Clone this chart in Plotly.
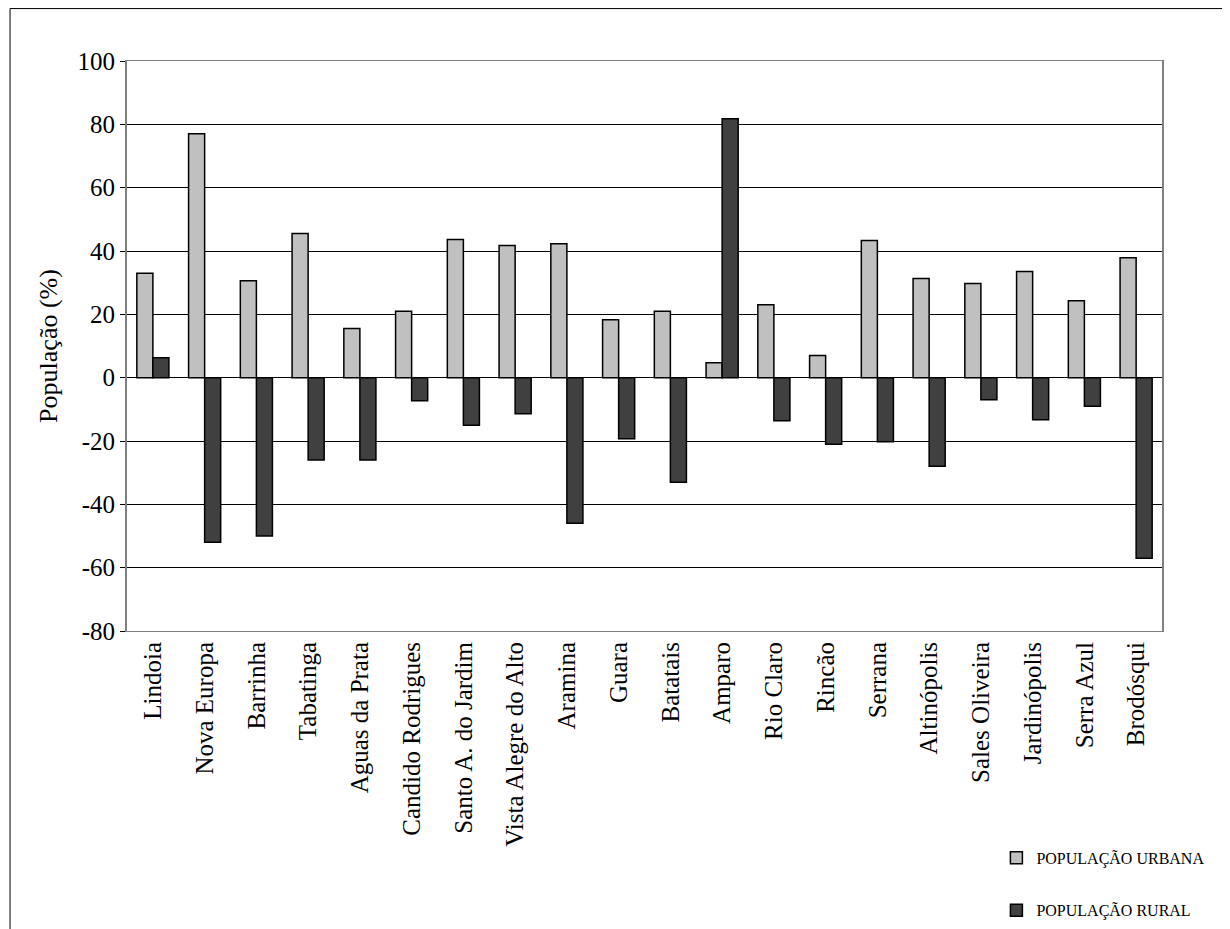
import plotly.graph_objects as go

municipios = ["Lindoia", "Nova Europa", "Barrinha", "Tabatinga", "Aguas da Prata",
              "Candido Rodrigues", "Santo A. do Jardim", "Vista Alegre do Alto", "Aramina",
              "Guara", "Batatais", "Amparo", "Rio Claro", "Rincão", "Serrana",
              "Altinópolis", "Sales Oliveira", "Jardinópolis", "Serra Azul", "Brodósqui"]
urbana = [33, 77, 30.6, 45.5, 15.5, 21, 43.6, 41.7, 42.3, 18.3, 21, 4.7, 23, 7, 43.3,
          31.3, 29.7, 33.5, 24.3, 37.9]
rural = [6.3, -52, -50, -26, -26, -7.3, -15, -11.4, -46, -19.3, -33, 81.8, -13.6, -21,
         -20.2, -28, -7, -13.3, -9, -57]
yticks = [-80, -60, -40, -20, 0, 20, 40, 60, 80, 100]

font = "Liberation Serif"

fig = go.Figure()
fig.add_trace(go.Bar(x=municipios, y=urbana, name="POPULAÇÃO URBANA", legend="legend",
                     showlegend=True,
                     marker=dict(color="#c0c0c0", line=dict(color="black", width=1.5))))
fig.add_trace(go.Bar(x=municipios, y=rural, name="POPULAÇÃO RURAL", legend="legend2",
                     showlegend=True,
                     marker=dict(color="#404040", line=dict(color="black", width=1.5))))

leg = dict(xanchor="left", yanchor="middle", font=dict(family=font, size=16),
           bgcolor="rgba(0,0,0,0)", itemwidth=30, visible=True)
fig.update_layout(
    width=1230, height=929,
    margin=dict(l=119, r=76, t=53, b=306, autoexpand=False),
    paper_bgcolor="white", plot_bgcolor="white",
    font=dict(family=font, size=24, color="black"),
    barmode="group", bargap=0.38, bargroupgap=0,
    showlegend=True,
    legend=dict(x=0.84, y=-0.398, **leg),
    legend2=dict(x=0.84, y=-0.49, **leg),
    shapes=[dict(type="rect", xref="paper", yref="paper",
                 x0=-0.113, x1=1.062, y0=-0.7, y1=1.092,
                 line=dict(color="black", width=1))],
)
fig.update_xaxes(tickangle=-90, showline=True, linecolor="gray", mirror=True,
                 ticks="", automargin=False, tickfont=dict(family=font, size=25))
fig.update_yaxes(range=[-80, 100], tickvals=yticks, ticktext=[str(v) for v in yticks],
                 showgrid=True, gridcolor="black", automargin=False,
                 gridwidth=1, showline=True, linecolor="gray", linewidth=2, mirror=True,
                 ticks="outside", ticklen=5, tickcolor="black",
                 tickfont=dict(family=font, size=25),
                 zeroline=True, zerolinecolor="black", zerolinewidth=1,
                 title=dict(text="População (%)", font=dict(family=font, size=26),
                            standoff=12))

fig.write_html("out.html")
